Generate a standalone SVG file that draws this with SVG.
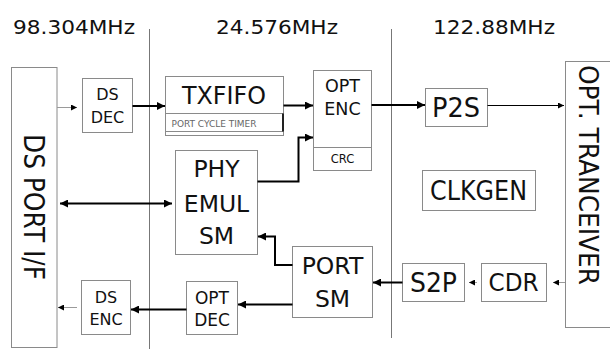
<svg xmlns="http://www.w3.org/2000/svg" width="610" height="349" viewBox="0 0 610 349">
<style>
.box{fill:#fff;stroke:#8a8a8a;stroke-width:1}
.t{font-family:"DejaVu Sans",sans-serif;fill:#111;text-anchor:middle}
.w{stroke:#000;stroke-width:2;fill:none}
.g{stroke:#9a9a9a;stroke-width:1;fill:none}
.k{stroke:#000;stroke-width:1;fill:none}
.div{stroke:#777;stroke-width:1}
</style>
<defs>
<marker id="ah" viewBox="0 0 10 10" refX="10" refY="5" markerWidth="9" markerHeight="8" markerUnits="userSpaceOnUse" orient="auto-start-reverse"><path d="M0,0L10,5L0,10z" fill="#000"/></marker>
<marker id="as" viewBox="0 0 10 10" refX="10" refY="5" markerWidth="7" markerHeight="6" markerUnits="userSpaceOnUse" orient="auto"><path d="M0,0L10,5L0,10z" fill="#000"/></marker>
</defs>
<rect width="610" height="349" fill="#fff"/>
<g id="labels">
<text class="t" x="74" y="34" font-size="19.5" textLength="122" lengthAdjust="spacingAndGlyphs">98.304MHz</text>
<text class="t" x="277" y="34" font-size="19.5" textLength="122" lengthAdjust="spacingAndGlyphs">24.576MHz</text>
<text class="t" x="494" y="34" font-size="19.5" textLength="122" lengthAdjust="spacingAndGlyphs">122.88MHz</text>
</g>
<g id="dividers">
<line class="div" x1="149.5" y1="29" x2="149.5" y2="349"/>
<line class="div" x1="391.5" y1="29" x2="391.5" y2="338"/>
</g>
<g id="dsport">
<rect class="box" x="11.5" y="67.5" width="45.5" height="280"/>
<text class="t" font-size="29" textLength="146" lengthAdjust="spacingAndGlyphs" transform="translate(24,207) rotate(90)">DS PORT I/F</text>
</g>
<g id="dsdec">
<rect class="box" x="82.5" y="78.5" width="50" height="54"/>
<text class="t" font-size="16"><tspan x="107.5" y="100">DS</tspan><tspan x="107.5" y="123">DEC</tspan></text>
</g>
<g id="txfifo">
<rect class="box" x="165.5" y="76.5" width="118" height="59"/>
<line x1="165.5" y1="113.5" x2="283.5" y2="113.5" stroke="#8a8a8a"/>
<line x1="165.5" y1="131.5" x2="283.5" y2="131.5" stroke="#8a8a8a"/>
<line x1="283" y1="113.5" x2="283" y2="131.5" stroke="#222" stroke-width="2"/>
<text class="t" x="224" y="103.5" font-size="24" textLength="84" lengthAdjust="spacingAndGlyphs">TXFIFO</text>
<text x="171.5" y="126.5" font-family="DejaVu Sans,sans-serif" font-size="9" fill="#666" textLength="85" lengthAdjust="spacingAndGlyphs">PORT CYCLE TIMER</text>
</g>
<g id="optenc">
<rect class="box" x="313.5" y="70.5" width="58" height="100"/>
<line x1="313.5" y1="147.5" x2="371.5" y2="147.5" stroke="#8a8a8a"/>
<text class="t" font-size="17.5"><tspan x="342.5" y="91.5">OPT</tspan><tspan x="342.5" y="114.5">ENC</tspan></text>
<text class="t" x="342.5" y="162.5" font-size="11.5">CRC</text>
</g>
<g id="phy">
<rect class="box" x="175.5" y="150.5" width="82" height="104"/>
<text class="t" font-size="23.5"><tspan x="216.5" y="177">PHY</tspan><tspan x="216.5" y="211.5">EMUL</tspan><tspan x="216.5" y="243.5">SM</tspan></text>
</g>
<g id="portsm">
<rect class="box" x="292.5" y="246.5" width="80" height="71"/>
<text class="t" font-size="23.5"><tspan x="332.5" y="274">PORT</tspan><tspan x="332.5" y="306.5">SM</tspan></text>
</g>
<g id="optdec">
<rect class="box" x="186.5" y="281.5" width="51" height="53"/>
<text class="t" font-size="17"><tspan x="212" y="303.5">OPT</tspan><tspan x="212" y="325.5">DEC</tspan></text>
</g>
<g id="dsenc">
<rect class="box" x="81.5" y="280.5" width="49" height="54"/>
<text class="t" font-size="16"><tspan x="106" y="302.5">DS</tspan><tspan x="106" y="325">ENC</tspan></text>
</g>
<g id="p2s">
<rect class="box" x="425.5" y="88.5" width="62" height="38"/>
<text class="t" x="456" y="117" font-size="27" textLength="48" lengthAdjust="spacingAndGlyphs">P2S</text>
</g>
<g id="clkgen">
<rect class="box" x="422.5" y="170.5" width="113" height="40"/>
<text class="t" x="478.5" y="200" font-size="27" textLength="97" lengthAdjust="spacingAndGlyphs">CLKGEN</text>
</g>
<g id="s2p">
<rect class="box" x="402.5" y="263.5" width="62" height="38"/>
<text class="t" x="433.5" y="291.5" font-size="27" textLength="47" lengthAdjust="spacingAndGlyphs">S2P</text>
</g>
<g id="cdr">
<rect class="box" x="481.5" y="263.5" width="65" height="38"/>
<text class="t" x="513.5" y="290.5" font-size="25" textLength="50" lengthAdjust="spacingAndGlyphs">CDR</text>
</g>
<g id="tranceiver">
<rect class="box" x="565.5" y="61.5" width="60" height="266"/>
<text class="t" font-size="27" textLength="220" lengthAdjust="spacingAndGlyphs" transform="translate(578.5,175) rotate(90)">OPT. TRANCEIVER</text>
</g>
<g id="connectors">
<path class="g" d="M57,107.5H77" marker-end="url(#as)"/>
<path class="w" d="M132.5,106H165" marker-end="url(#ah)"/>
<path class="w" d="M283.5,105.5H313" marker-end="url(#ah)"/>
<path class="w" d="M257.5,181.5H298.5V137.5H313" marker-end="url(#ah)"/>
<path class="w" d="M371.5,105H425" marker-end="url(#ah)"/>
<path class="k" d="M487.5,105.5H564" marker-end="url(#as)"/>
<path class="w" d="M60,203.5H172" marker-start="url(#ah)" marker-end="url(#ah)"/>
<path class="w" d="M292.5,265H275V236.5H258" marker-end="url(#ah)"/>
<path class="w" d="M292.5,304.5H238" marker-end="url(#ah)"/>
<path class="w" d="M186.5,309.5H131" marker-end="url(#ah)"/>
<path class="g" d="M77,307.5H58" marker-end="url(#as)"/>
<path class="g" d="M565,282.5H553" marker-end="url(#as)"/>
<path class="g" d="M477,282.5H469" marker-end="url(#as)"/>
<path class="w" d="M402.5,282.5H373" marker-end="url(#ah)"/>
</g>
</svg>
